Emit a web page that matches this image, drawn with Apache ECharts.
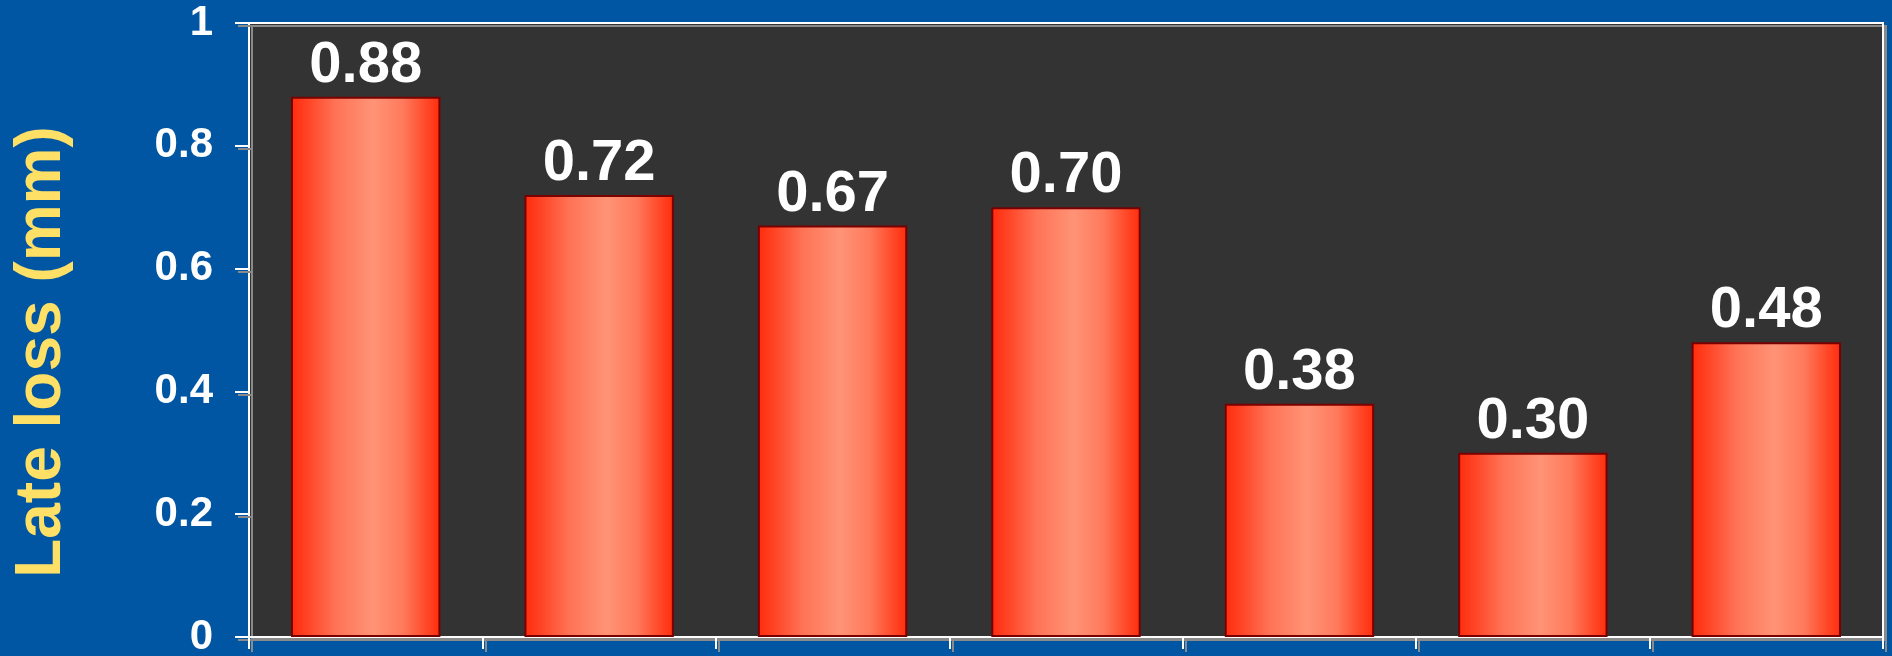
<!DOCTYPE html>
<html>
<head>
<meta charset="utf-8">
<style>
html,body{margin:0;padding:0;background:#0056A2;}
#chart{width:1892px;height:656px;}
</style>
<script src="https://cdn.jsdelivr.net/npm/echarts@6/dist/echarts.min.js"></script>
</head>
<body>
<div id="chart"></div>
<script>
const categories = ['1', '2', '3', '4', '5', '6', '7'];
const lateLoss = [0.88, 0.72, 0.67, 0.70, 0.38, 0.30, 0.48];
const yTicks = [0, 0.2, 0.4, 0.6, 0.8, 1];
const yTitle = 'Late loss (mm)';

const chart = echarts.init(document.getElementById('chart'), null, {renderer: 'canvas'});
const fontFam = '"Liberation Sans", Arial, sans-serif';
const tickShadow = {shadowColor: '#8a8a8a', shadowOffsetX: 3, shadowOffsetY: 3, shadowBlur: 0};

chart.setOption({
  backgroundColor: '#0056A2',
  animation: false,
  grid: {
    left: 249, right: 9, top: 23, bottom: 19,
    containLabel: false,
    outerBoundsMode: 'none',
    show: true,
    backgroundColor: '#333333',
    borderColor: '#ffffff',
    borderWidth: 2,
    shadowColor: '#8a8a8a',
    shadowOffsetX: 3,
    shadowOffsetY: 3,
    shadowBlur: 0
  },
  xAxis: {
    type: 'category',
    data: categories,
    boundaryGap: true,
    axisLine: {show: true, lineStyle: Object.assign({color: '#ffffff', width: 2}, tickShadow)},
    axisTick: {show: true, length: 12, inside: false, alignWithLabel: false,
      lineStyle: Object.assign({color: '#ffffff', width: 2}, tickShadow)},
    axisLabel: {show: false},
    splitLine: {show: false}
  },
  yAxis: {
    type: 'value',
    min: yTicks[0],
    max: yTicks[yTicks.length - 1],
    interval: 0.2,
    name: yTitle,
    nameLocation: 'middle',
    nameGap: 175,
    nameRotate: 90,
    nameTextStyle: {
      color: '#FFE066',
      fontSize: 64,
      fontWeight: 'bold',
      fontFamily: fontFam,
      textShadowColor: '#b4b4b4',
      textShadowOffsetX: 3,
      textShadowOffsetY: 3,
      textShadowBlur: 0,
      padding: [0, 44, 0, 0]
    },
    axisLine: {show: true, lineStyle: Object.assign({color: '#ffffff', width: 2}, tickShadow)},
    axisTick: {show: true, length: 14, lineStyle: Object.assign({color: '#ffffff', width: 2}, tickShadow)},
    axisLabel: {
      margin: 36,
      color: '#ffffff',
      fontSize: 42,
      fontWeight: 'bold',
      fontFamily: fontFam,
      textShadowColor: '#8a8a8a',
      textShadowOffsetX: 3,
      textShadowOffsetY: 3,
      textShadowBlur: 0,
      formatter: function (v) { return String(Math.round(v * 10) / 10); }
    },
    splitLine: {show: false}
  },
  series: [{
    type: 'bar',
    data: lateLoss,
    barWidth: '64%',
    itemStyle: {
      borderColor: '#7a0000',
      borderWidth: 2,
      color: {
        type: 'linear', x: 0, y: 0, x2: 1, y2: 0,
        colorStops: [
          {offset: 0, color: '#ff2c0c'},
          {offset: 0.12, color: '#ff4628'},
          {offset: 0.3, color: '#ff7356'},
          {offset: 0.55, color: '#ff9376'},
          {offset: 0.75, color: '#ff7a5c'},
          {offset: 0.9, color: '#ff4a2a'},
          {offset: 1, color: '#ff2c0c'}
        ]
      }
    },
    label: {
      show: true,
      position: 'top',
      distance: 2,
      color: '#ffffff',
      fontSize: 58,
      fontWeight: 'bold',
      fontFamily: fontFam,
      formatter: function (p) { return p.value.toFixed(2); }
    }
  }]
});
</script>
</body>
</html>
